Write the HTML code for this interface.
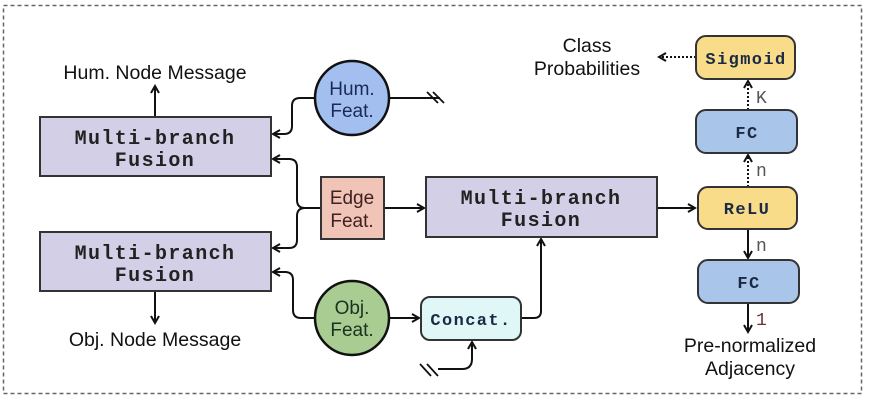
<!DOCTYPE html>
<html><head><style>
html,body{margin:0;padding:0;background:#fff;}
svg{display:block;}
.mono{font-family:"Liberation Mono",monospace;font-weight:bold;}
.sans{font-family:"Liberation Sans",sans-serif;}
</style></head><body>
<svg width="869" height="400" viewBox="0 0 869 400" xmlns="http://www.w3.org/2000/svg">
<defs>
<marker id="a" markerWidth="10" markerHeight="10" refX="8" refY="5" orient="auto" markerUnits="userSpaceOnUse">
<path d="M1,1 L8,5 L1,9" fill="none" stroke="#111" stroke-width="2"/></marker>
</defs>
<rect x="3.5" y="5.5" width="858" height="388" fill="none" stroke="#666" stroke-width="1.5" stroke-dasharray="4,3"/>
<g stroke="#111" stroke-width="2" fill="none">
<path d="M155,116 V86" marker-end="url(#a)"/>
<path d="M155,292 V323" marker-end="url(#a)"/>
<path d="M315,98 H300 Q292,98 292,106 V126 Q292,134 284,134 H273" marker-end="url(#a)"/>
<path d="M321,208 H305 Q297,208 297,200 V167 Q297,159 289,159 H273" marker-end="url(#a)"/>
<path d="M321,208 H305 Q297,208 297,216 V240 Q297,248 289,248 H273" marker-end="url(#a)"/>
<path d="M315,318 H301 Q293,318 293,310 V280 Q293,272 285,272 H273" marker-end="url(#a)"/>
<path d="M390,98 H440"/>
<path d="M427,92 L438,103 M433,92 L444,103" stroke-width="1.8"/>
<path d="M384,208 H424" marker-end="url(#a)"/>
<path d="M390,318 H419" marker-end="url(#a)"/>
<path d="M521,318 H534 Q541,318 541,311 V239" marker-end="url(#a)"/>
<path d="M438,369 H462 Q472,369 472,359 V342" marker-end="url(#a)"/>
<path d="M420,364 L431,376 M427,364 L438,376" stroke-width="1.8"/>
<path d="M657,208 H695" marker-end="url(#a)"/>
<path d="M748,229 V258" marker-end="url(#a)"/>
<path d="M748,303 V332" marker-end="url(#a)"/>
<path d="M748,187 V155" stroke-dasharray="2,2" marker-end="url(#a)"/>
<path d="M748,110 V81" stroke-dasharray="2,2" marker-end="url(#a)"/>
<path d="M696,57 H659" stroke-dasharray="2,2" marker-end="url(#a)"/>
</g>
<g stroke="#333" stroke-width="2">
<rect x="40" y="117" width="231" height="59" fill="#d3cfe6"/>
<rect x="40" y="232" width="231" height="59" fill="#d3cfe6"/>
<rect x="426" y="177" width="231" height="60" fill="#d3cfe6"/>
<rect x="321" y="177" width="63" height="62" fill="#f0c5b8"/>
<circle cx="352" cy="98" r="37" fill="#a3bff0" stroke="#111" stroke-width="2.5"/>
<circle cx="352" cy="318" r="37" fill="#a8cc92" stroke="#111" stroke-width="2.5"/>
<rect x="421" y="297" width="100" height="43" rx="9" fill="#e0f7f8"/>
<rect x="696" y="36" width="99" height="43" rx="10" fill="#f8dc8a"/>
<rect x="696" y="110" width="101" height="43" rx="10" fill="#a9c5ea"/>
<rect x="698" y="187" width="99" height="42" rx="10" fill="#f8dc8a"/>
<rect x="698" y="260" width="101" height="43" rx="10" fill="#a9c5ea"/>
</g>
<g class="mono" font-size="20" fill="#222" text-anchor="middle" letter-spacing="1.4">
<text x="155" y="144">Multi-branch</text><text x="155" y="166">Fusion</text>
<text x="155" y="259">Multi-branch</text><text x="155" y="281">Fusion</text>
<text x="541" y="204">Multi-branch</text><text x="541" y="226">Fusion</text>
</g>
<g class="mono" font-size="17" fill="#1a2a44" text-anchor="middle" letter-spacing="1.4">
<text x="471" y="325">Concat.</text>
<text x="746" y="64">Sigmoid</text>
<text x="747" y="138">FC</text>
<text x="747" y="214">ReLU</text>
<text x="749" y="288">FC</text>
</g>
<g font-family="Liberation Mono,monospace" font-size="18" fill="#555">
<text x="756" y="103">K</text>
<text x="756" y="176">n</text>
<text x="756" y="251">n</text>
<text x="756" y="325" fill="#633">1</text>
</g>
<g class="sans" font-size="19.5" fill="#111" text-anchor="middle">
<text x="155" y="79">Hum. Node Message</text>
<text x="155" y="346">Obj. Node Message</text>
<text x="587" y="52">Class</text><text x="587" y="75">Probabilities</text>
<text x="750" y="352">Pre-normalized</text><text x="750" y="375">Adjacency</text>
</g>
<g class="sans" font-size="19" text-anchor="middle">
<text x="352" y="95" fill="#1a2a55">Hum.</text><text x="352" y="117" fill="#1a2a55">Feat.</text>
<text x="352" y="314" fill="#1a3320">Obj.</text><text x="352" y="336" fill="#1a3320">Feat.</text>
<text x="352" y="204" fill="#402020">Edge</text><text x="352" y="227" fill="#402020">Feat.</text>
</g>
</svg>
</body></html>
